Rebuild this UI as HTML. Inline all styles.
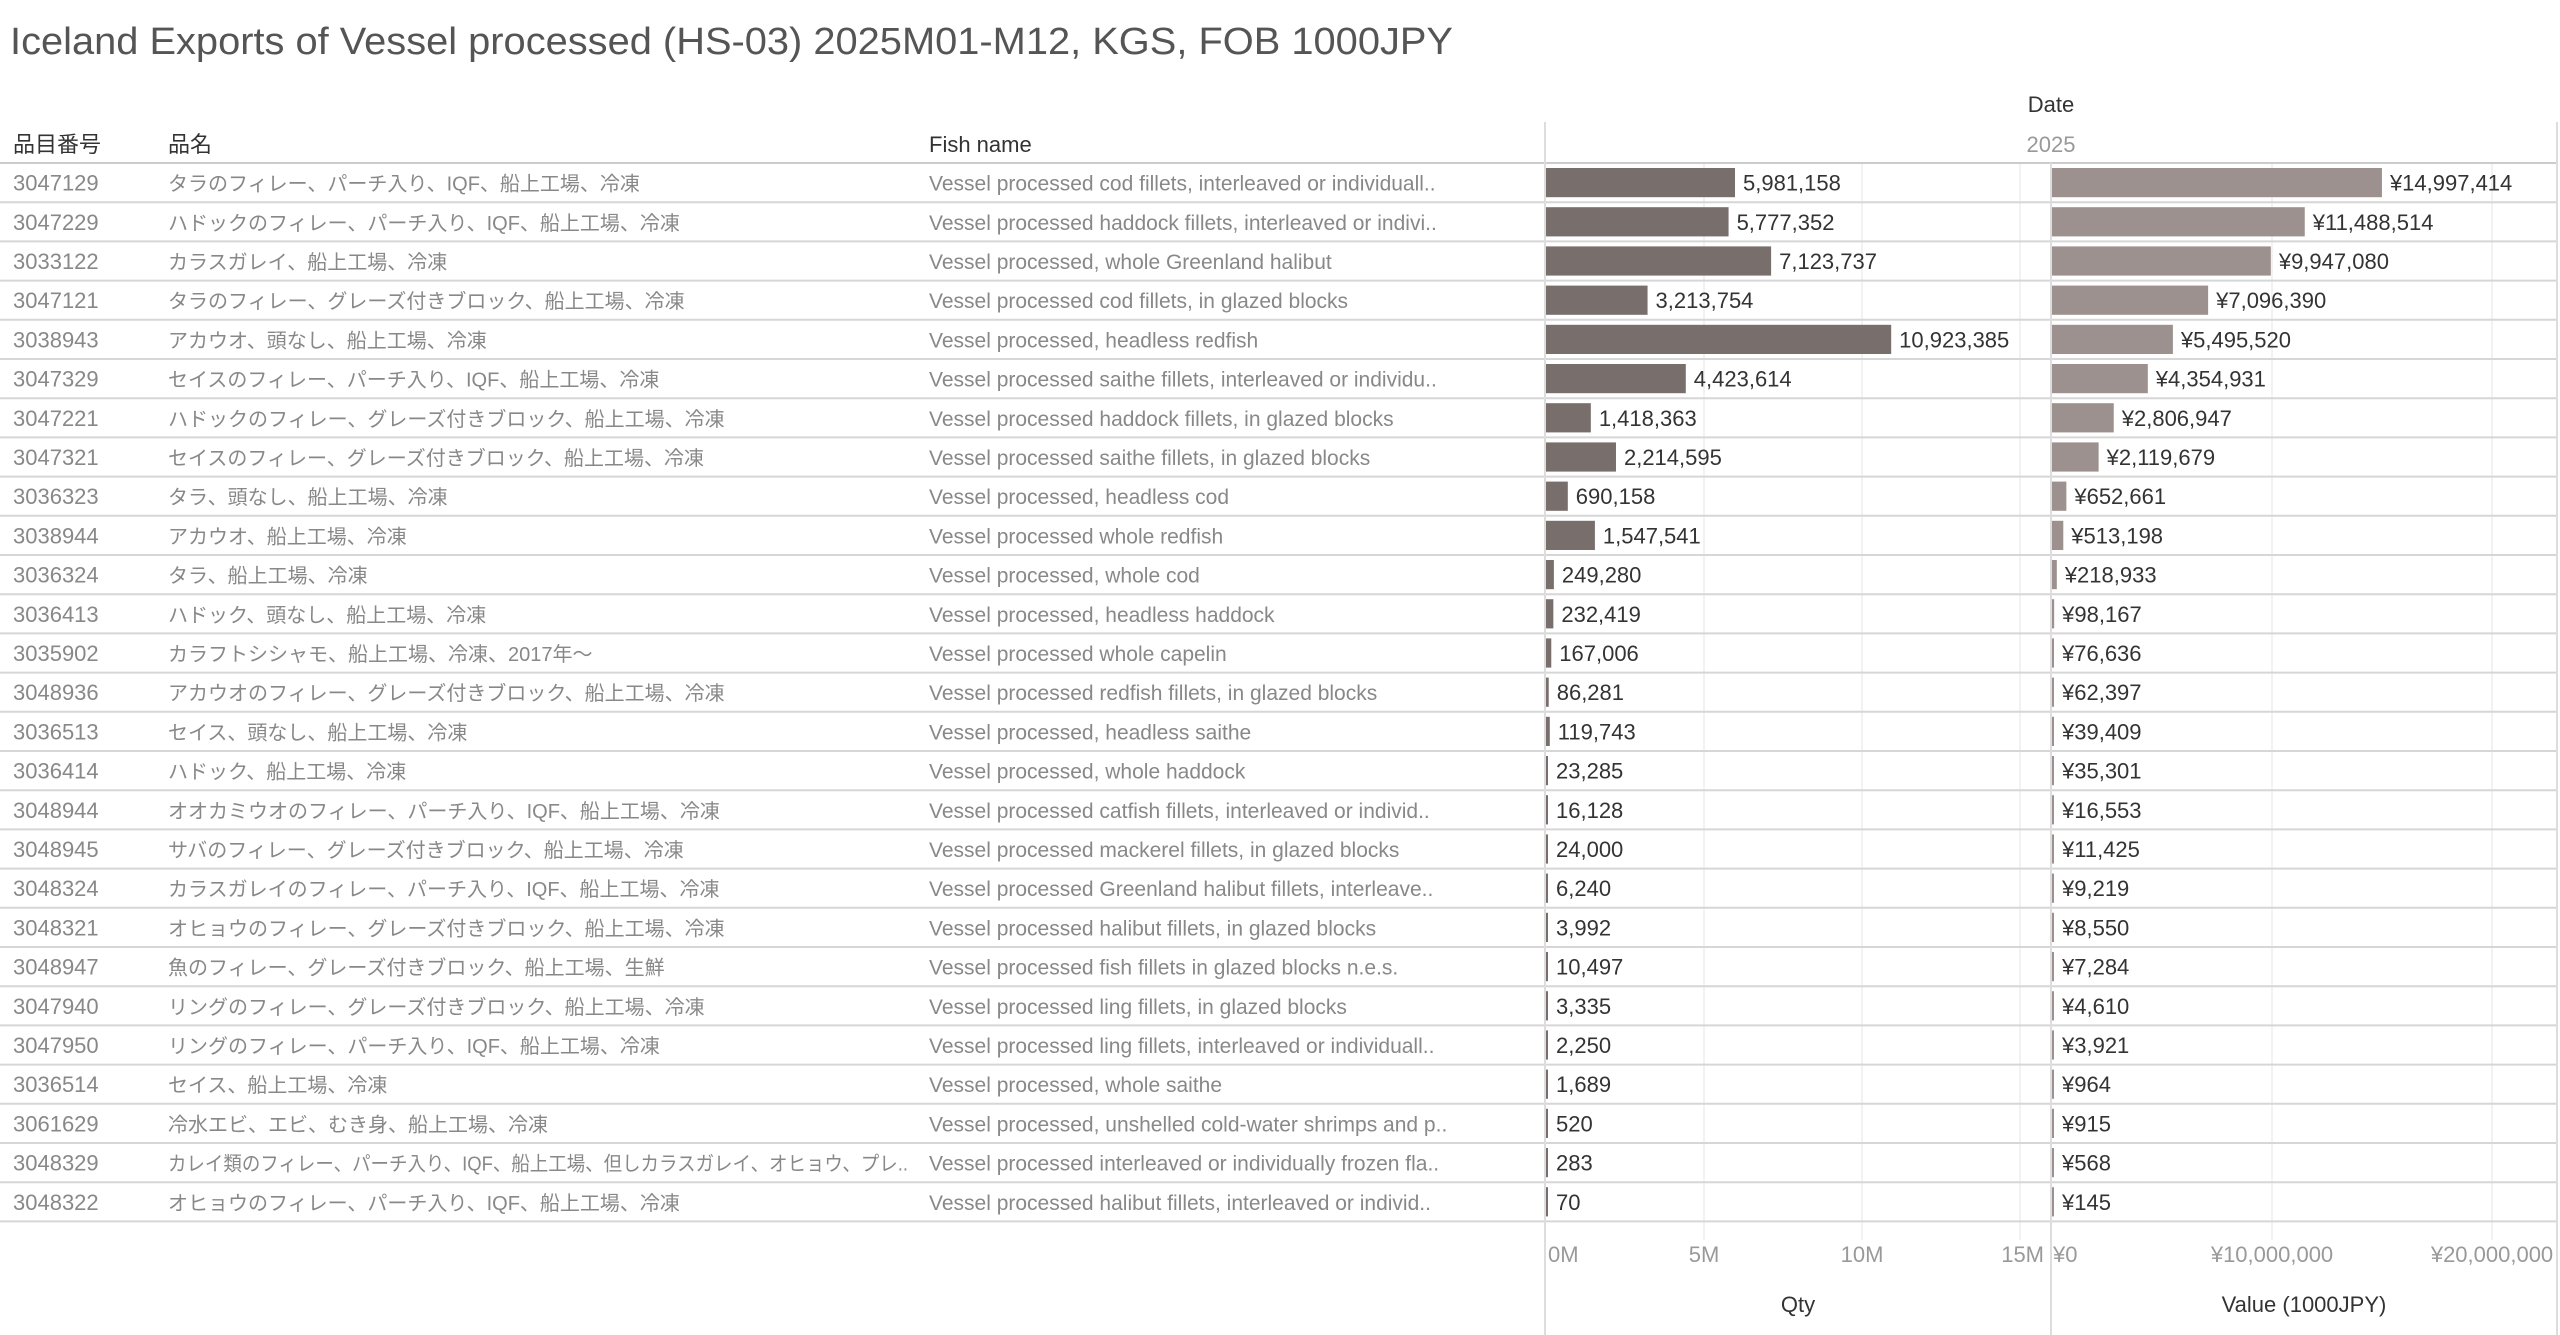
<!DOCTYPE html>
<html><head><meta charset="utf-8"><style>
html,body{margin:0;padding:0;background:#fff;}
svg{display:block;font-family:"Liberation Sans","Noto Sans CJK JP",sans-serif;}
</style></head><body>
<svg id="chart" width="2560" height="1335" viewBox="0 0 2560 1335">
<text x="10" y="54" font-size="38" fill="#555" textLength="1443" lengthAdjust="spacingAndGlyphs">Iceland Exports of Vessel processed (HS-03) 2025M01-M12, KGS, FOB 1000JPY</text>
<text x="2051" y="112" font-size="22" fill="#333" text-anchor="middle">Date</text>
<text x="2051" y="152" font-size="22" fill="#999" text-anchor="middle">2025</text>
<text x="13" y="152" font-size="22" fill="#333">品目番号</text>
<text x="168" y="152" font-size="22" fill="#333">品名</text>
<text x="929" y="152" font-size="22" fill="#333">Fish name</text>
<g id="grid"></g><g id="rows"></g><g id="axes"></g>
</svg>
<script>
const codes=["3047129","3047229","3033122","3047121","3038943","3047329","3047221","3047321","3036323","3038944","3036324","3036413","3035902","3048936","3036513","3036414","3048944","3048945","3048324","3048321","3048947","3047940","3047950","3036514","3061629","3048329","3048322"];
const jpNames=["タラのフィレー、パーチ入り、IQF、船上工場、冷凍","ハドックのフィレー、パーチ入り、IQF、船上工場、冷凍","カラスガレイ、船上工場、冷凍","タラのフィレー、グレーズ付きブロック、船上工場、冷凍","アカウオ、頭なし、船上工場、冷凍","セイスのフィレー、パーチ入り、IQF、船上工場、冷凍","ハドックのフィレー、グレーズ付きブロック、船上工場、冷凍","セイスのフィレー、グレーズ付きブロック、船上工場、冷凍","タラ、頭なし、船上工場、冷凍","アカウオ、船上工場、冷凍","タラ、船上工場、冷凍","ハドック、頭なし、船上工場、冷凍","カラフトシシャモ、船上工場、冷凍、2017年～","アカウオのフィレー、グレーズ付きブロック、船上工場、冷凍","セイス、頭なし、船上工場、冷凍","ハドック、船上工場、冷凍","オオカミウオのフィレー、パーチ入り、IQF、船上工場、冷凍","サバのフィレー、グレーズ付きブロック、船上工場、冷凍","カラスガレイのフィレー、パーチ入り、IQF、船上工場、冷凍","オヒョウのフィレー、グレーズ付きブロック、船上工場、冷凍","魚のフィレー、グレーズ付きブロック、船上工場、生鮮","リングのフィレー、グレーズ付きブロック、船上工場、冷凍","リングのフィレー、パーチ入り、IQF、船上工場、冷凍","セイス、船上工場、冷凍","冷水エビ、エビ、むき身、船上工場、冷凍","カレイ類のフィレー、パーチ入り、IQF、船上工場、但しカラスガレイ、オヒョウ、プレ..","オヒョウのフィレー、パーチ入り、IQF、船上工場、冷凍"];
const fishNames=["Vessel processed cod fillets, interleaved or individuall..","Vessel processed haddock fillets, interleaved or indivi..","Vessel processed, whole Greenland halibut","Vessel processed cod fillets, in glazed blocks","Vessel processed, headless redfish","Vessel processed saithe fillets, interleaved or individu..","Vessel processed haddock fillets, in glazed blocks","Vessel processed saithe fillets, in glazed blocks","Vessel processed, headless cod","Vessel processed whole redfish","Vessel processed, whole cod","Vessel processed, headless haddock","Vessel processed whole capelin","Vessel processed redfish fillets, in glazed blocks","Vessel processed, headless saithe","Vessel processed, whole haddock","Vessel processed catfish fillets, interleaved or individ..","Vessel processed mackerel fillets, in glazed blocks","Vessel processed Greenland halibut fillets, interleave..","Vessel processed halibut fillets, in glazed blocks","Vessel processed fish fillets in glazed blocks n.e.s.","Vessel processed ling fillets, in glazed blocks","Vessel processed ling fillets, interleaved or individuall..","Vessel processed, whole saithe","Vessel processed, unshelled cold-water shrimps and p..","Vessel processed interleaved or individually frozen fla..","Vessel processed halibut fillets, interleaved or individ.."];
const qty=[5981158,5777352,7123737,3213754,10923385,4423614,1418363,2214595,690158,1547541,249280,232419,167006,86281,119743,23285,16128,24000,6240,3992,10497,3335,2250,1689,520,283,70];
const value=[14997414,11488514,9947080,7096390,5495520,4354931,2806947,2119679,652661,513198,218933,98167,76636,62397,39409,35301,16553,11425,9219,8550,7284,4610,3921,964,915,568,145];
const qtyTicks=[0,5000000,10000000,15000000];
const qtyTickLabels=["0M","5M","10M","15M"];
const valTicks=[0,10000000,20000000];
const valTickLabels=["¥0","¥10,000,000","¥20,000,000"];

const NS="http://www.w3.org/2000/svg";
const X0q=1546, PXq=31.6/1e6, X0v=2052, PXv=22.0/1e6;
const xq=v=>X0q+v*PXq, xv=v=>X0v+v*PXv;
const TOP=163, RH=39.2;
const rowY=i=>TOP+i*RH;
function mk(tag,attrs,parent){const e=document.createElementNS(NS,tag);for(const k in attrs)e.setAttribute(k,attrs[k]);parent.appendChild(e);return e;}
const grid=document.getElementById('grid'),rows=document.getElementById('rows'),axes=document.getElementById('axes');
qtyTicks.forEach((t,i)=>{if(i>0){const l=mk('line',{x1:xq(t),x2:xq(t),y1:TOP,y2:1240,stroke:'#eee','stroke-width':1.5},grid);

}
const last=i==qtyTicks.length-1;
const tx=mk('text',{x:last?xq(t)+24:(i==0?xq(t)+2:xq(t)),y:1262,'font-size':22,fill:'#999','text-anchor':last?'end':(i==0?'start':'middle')},axes);tx.textContent=qtyTickLabels[i];

});
valTicks.forEach((t,i)=>{if(i>0){const l=mk('line',{x1:xv(t),x2:xv(t),y1:TOP,y2:1240,stroke:'#eee','stroke-width':1.5},grid);

}
const tx=mk('text',{x:i==0?xv(t)+1:xv(t),y:1262,'font-size':22,fill:'#999','text-anchor':i==0?'start':'middle'},axes);tx.textContent=valTickLabels[i];

});
[[1545,122],[2051,163],[2557,122]].forEach(([x,y1])=>{const l=mk('line',{x1:x,x2:x,y1:y1,y2:1335,stroke:'#ddd','stroke-width':2},axes);

});
mk('line',{x1:0,x2:2557,y1:TOP,y2:TOP,stroke:'#ccc','stroke-width':2},grid);
codes.forEach((c,i)=>{
 const y=rowY(i), cy=y+RH/2+8;
 const sep=mk('line',{x1:0,x2:2557,y1:y+RH,y2:y+RH,stroke:'#d6d6d6','stroke-width':2},grid);
 
 
 const t1=mk('text',{x:13,y:cy,'font-size':22,fill:'#888'},rows);t1.textContent=c;
 
 
 const a2={x:168,y:cy,'font-size':20,fill:'#888'};
 if(jpNames[i].length>38){a2.textLength=740;a2.lengthAdjust='spacingAndGlyphs';}
 const t2=mk('text',a2,rows);t2.textContent=jpNames[i];
 
 
 const t3=mk('text',{x:929,y:cy,'font-size':21,fill:'#888'},rows);t3.textContent=fishNames[i];
 
 
 const wq=Math.max(2,xq(qty[i])-X0q);
 const b1=mk('rect',{x:X0q,y:y+5,width:wq,height:RH-10,fill:'#786e6b'},rows);
 
 
 const l1=mk('text',{x:X0q+wq+8,y:cy,'font-size':22,fill:'#333'},rows);l1.textContent=qty[i].toLocaleString('en-US');
 
 
 const wv=Math.max(2,xv(value[i])-X0v);
 const b2=mk('rect',{x:X0v,y:y+5,width:wv,height:RH-10,fill:'#9c918e'},rows);
 
 
 const l2=mk('text',{x:X0v+wv+8,y:cy,'font-size':22,fill:'#333'},rows);l2.textContent='¥'+value[i].toLocaleString('en-US');
 
 
});
const a1=mk('text',{x:1798,y:1312,'font-size':22,fill:'#333','text-anchor':'middle'},axes);a1.textContent='Qty';


const a2=mk('text',{x:2304,y:1312,'font-size':22,fill:'#333','text-anchor':'middle'},axes);a2.textContent='Value (1000JPY)';


</script>
</body></html>
